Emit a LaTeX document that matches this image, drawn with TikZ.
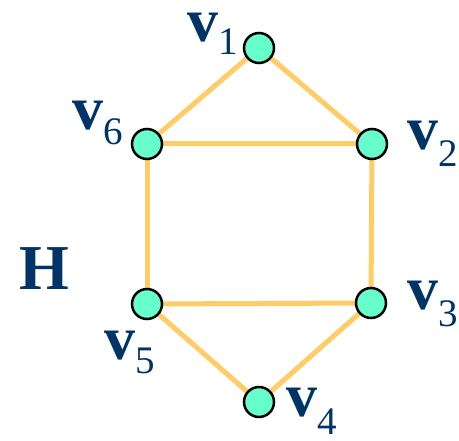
\documentclass[tikz,border=0pt]{standalone}
\usepackage{fontspec}
\setmainfont{Liberation Serif}
\usepackage{tikz}
\usetikzlibrary{positioning,backgrounds}
\definecolor{vertexcolor}{HTML}{66FFCC}
\definecolor{edgecolor}{HTML}{FFCC66}
\definecolor{labelcolor}{HTML}{003366}
\tikzset{
	vertex/.style={
		circle,
		draw=black,
		fill=vertexcolor,
		line width=2.5pt,
		minimum size=30pt,
		inner sep=0pt
	},
	edge/.style={
		draw=edgecolor,
		line width=5pt
	},
	vlabel/.style={
		anchor=base west,
		inner sep=0pt,
		text=labelcolor,
		font=\fontsize{62}{62}\selectfont
	}
}
\newcommand{\vtag}[2]{\textbf{v}\raisebox{-#2}{\fontsize{39}{39}\selectfont #1}}

\begin{document}
\begin{tikzpicture}[x=1pt,y=-1pt]
		\useasboundingbox (0,0) rectangle (459,441);
		
		% vertices
		\node[vertex] (v1) at (259,48) {};
		\node[vertex] (v2) at (372,144) {};
		\node[vertex] (v3) at (371,303) {};
		\node[vertex] (v4) at (259,402) {};
		\node[vertex] (v5) at (147,304) {};
		\node[vertex] (v6) at (147,144) {};
		
		% edges
		\begin{scope}[on background layer]
			\draw[edge] (v1) -- (v2);
			\draw[edge] (v1) -- (v6);
			\draw[edge] (v6) -- (v2);
			\draw[edge] (v6) -- (v5);
			\draw[edge] (v2) -- (v3);
			\draw[edge] (v5) -- (v3);
			\draw[edge] (v5) -- (v4);
			\draw[edge] (v3) -- (v4);
		\end{scope}
		
		% labels
		\node[vlabel] (l1) at (187,42) {\vtag{1}{13pt}};
		\node[vlabel] (l2) at (407,150) {\vtag{2}{17pt}};
		\node[vlabel] (l3) at (407,310) {\vtag{3}{17pt}};
		\node[vlabel] (l4) at (286,417) {\vtag{4}{18pt}};
		\node[vlabel] (l5) at (104,360) {\vtag{5}{14pt}};
		\node[vlabel] (l6) at (72,130) {\vtag{6}{15pt}};
		
		\node[vlabel, font=\fontsize{64}{64}\selectfont\bfseries] (graph) at (19,290) {H};
		
	\end{tikzpicture}
\end{document}
